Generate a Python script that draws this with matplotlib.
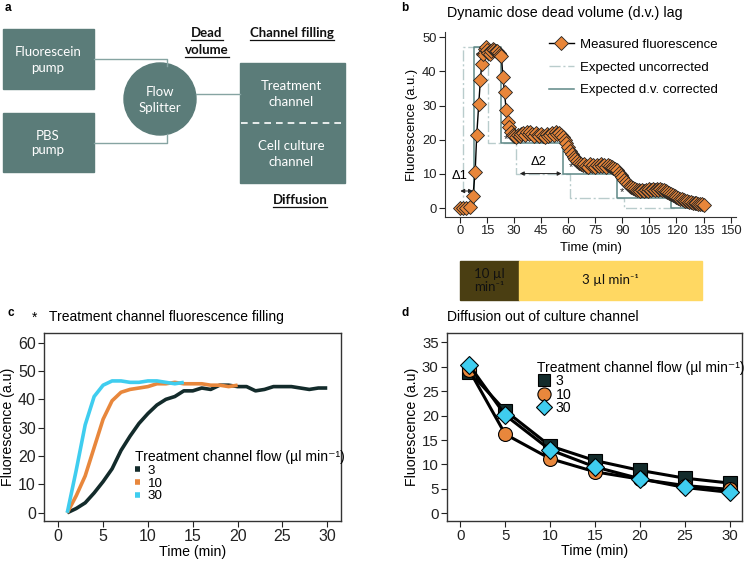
import numpy as np
import matplotlib
matplotlib.use("Agg")
import matplotlib.pyplot as plt
from matplotlib.patches import Rectangle, Circle

plt.rcParams['font.family'] = ['Liberation Sans', 'DejaVu Sans']

# ================= DATA =================
# panel b: measured fluorescence (time, value)
t_meas = [0, 1.5, 3.5, 5.8, 7.2, 8.4, 9.3, 10.4, 11.3, 12.1, 12.9, 13.6, 14.3, 15.0,
          15.8, 16.6, 17.4, 18.2, 19.0, 19.8, 20.6, 21.4, 22.2, 23.0, 23.8, 24.7,
          25.6, 26.5, 27.4, 28.3, 29.2] + list(range(30, 136))
y_meas = [0, 0, 0, 0.3, 3.5, 10.5, 21.5, 30.5, 37.5, 42.2, 45.0, 46.5, 47.0, 46.2,
          45.3, 45.0, 45.8, 46.5, 46.3, 45.8, 46.0, 45.3, 44.8, 44.4, 38.3, 33.9,
          28.6, 25.1, 23.7, 22.2, 21.5,
          # 30 - 57
          21.2, 20.8, 21.5, 21.0, 21.8, 22.0, 21.4, 22.2, 21.6, 22.3, 21.8, 21.2, 22.0, 21.5,
          21.0, 21.8, 21.2, 20.8, 21.6, 21.0, 21.4, 21.9, 21.5, 22.2, 21.7, 22.0, 21.5, 20.8,
          # 58 - 85
          20.0, 19.0, 18.0, 16.8, 15.8, 15.0, 14.3, 13.8, 13.3, 12.8, 12.5, 13.0, 12.4, 12.0,
          12.8, 12.2, 12.6, 12.0, 12.7, 12.3, 12.8, 12.2, 12.6, 12.1, 12.7, 12.4, 12.0, 11.8,
          # 86 - 113
          11.5, 11.0, 10.4, 9.7, 9.0, 8.3, 7.6, 7.0, 6.5, 6.1, 5.8, 5.5, 5.3, 5.2,
          5.0, 5.3, 5.0, 5.4, 5.1, 5.5, 5.2, 5.6, 5.3, 5.7, 5.4, 5.6, 5.2, 5.4,
          # 114 - 135
          5.0, 4.8, 4.5, 4.2, 3.9, 3.6, 3.3, 3.0, 2.8, 2.6, 2.4, 2.2, 2.0, 1.9,
          1.8, 1.6, 1.5, 1.4, 1.3, 1.2, 1.1, 1.0]

# expected step profiles (step start times, levels)
t_uncorr = [0, 1.5, 15.5, 31, 61, 91, 120]
y_uncorr = [0, 47, 19, 10, 3, 0, 0]
t_corr = [0, 7.5, 23, 57, 87, 117, 133]
y_corr = [0, 47, 19, 10, 3, 0, 0]

# panel c: channel filling
t_fill_3 = list(range(1, 31))
fill_3 = [0, 1.5, 3.5, 7, 11, 15.5, 22, 27, 31.5, 35, 38, 40, 41, 43, 43, 44, 43.5,
          45, 45, 44.5, 44.5, 43, 43.5, 44.5, 44.5, 44.5, 44, 43.5, 44, 44]
t_fill_10 = list(range(1, 21))
fill_10 = [0, 6, 13, 23, 33, 39.5, 42.5, 43.5, 44, 44.5, 45.5, 45.5, 46, 45.5, 45.5,
           45.5, 45, 45, 44.5, 45]
t_fill_30 = list(range(1, 15))
fill_30 = [0, 15, 31, 41, 45, 46.5, 46.5, 46, 46, 46.5, 46.5, 46, 45.5, 46]

# panel d: diffusion
t_diff = [1, 5, 10, 15, 20, 25, 30]
diff_3 = [29.0, 21.0, 13.8, 10.8, 8.8, 7.2, 6.2]
diff_10 = [29.3, 16.2, 11.2, 8.5, 7.0, 5.7, 4.9]
diff_30 = [30.3, 20.1, 13.0, 9.5, 7.1, 5.3, 4.3]

# ================= FIGURE =================
W, H = 746, 563
fig = plt.figure(figsize=(W / 100, H / 100), dpi=100)


def box(l, t, r, b):
    return [l / W, 1 - b / H, (r - l) / W, (b - t) / H]


ax0 = fig.add_axes([0, 0, 1, 1])
ax0.set_xlim(0, W)
ax0.set_ylim(H, 0)
ax0.axis('off')

# ---- panel a: diagram ----
teal = '#5b7c79'
wire = '#86a4a2'
diag_font = ['Lato', 'DejaVu Sans']
ax0.add_patch(Rectangle((3, 29), 91, 60, color=teal))
ax0.add_patch(Rectangle((3, 113), 91, 59, color=teal))
ax0.add_patch(Rectangle((240, 63), 105, 120, color=teal))
ax0.plot([94, 167, 167], [59, 59, 66], color=wire, lw=1)
ax0.plot([94, 167, 167], [143, 143, 134], color=wire, lw=1)
ax0.plot([196, 240], [94, 94], color=wire, lw=1)
ax0.add_patch(Circle((160, 99), 36, color=teal))
ax0.plot([241, 344], [123, 123], color='white', lw=1.2, ls=(0, (4, 3)))

for x, y, s in [(48, 60, 'Fluorescein\npump'), (48, 143, 'PBS\npump'),
                (160, 100, 'Flow\nSplitter'), (291, 94, 'Treatment\nchannel'),
                (291, 154, 'Cell culture\nchannel')]:
    ax0.text(x, y, s, color='white', ha='center', va='center', fontsize=9.5,
             family=diag_font, linespacing=1.3)

under = []
for x, y, s in [(207, 33, 'Dead'), (207, 50, 'volume'),
                (292, 33, 'Channel filling'), (300, 200, 'Diffusion')]:
    under.append(ax0.text(x, y, s, ha='center', va='center', fontsize=9.5,
                          fontweight='bold', family=diag_font, color='#111111'))

# panel letters and titles
for x, y, s in [(8, 8, 'a'), (405, 8, 'b'), (11, 313, 'c'), (405, 313, 'd')]:
    ax0.text(x, y, s, ha='center', va='center', fontsize=8.5, fontweight='bold')
ax0.text(447, 13.5, 'Dynamic dose dead volume (d.v.) lag', ha='left', va='center', fontsize=10.3)
ax0.text(35, 318, '*', ha='center', va='center', fontsize=10)
ax0.text(49, 317, 'Treatment channel fluorescence filling', ha='left', va='center', fontsize=10)
ax0.text(447, 317, 'Diffusion out of culture channel', ha='left', va='center', fontsize=10)

# flow rate bar under panel b
ax0.add_patch(Rectangle((460, 261), 59, 39, color='#4a3e12'))
ax0.add_patch(Rectangle((519, 261), 183, 39, color='#ffd862'))
ax0.text(489.5, 280.5, '10 µl\nmin⁻¹', ha='center', va='center', fontsize=9.5,
         family=diag_font, color='#111111', linespacing=1.15)
ax0.text(610.5, 280.5, '3 µl min⁻¹', ha='center', va='center', fontsize=9.5,
         family=diag_font, color='#111111')

# ---- panel b ----
axb = fig.add_axes(box(445, 32, 736, 217))
axb.plot(t_uncorr, y_uncorr, drawstyle='steps-post', color='#b9cccc', lw=1,
         ls=(0, (8, 2, 1.5, 2)), label='Expected uncorrected', zorder=2)
axb.plot(t_corr, y_corr, drawstyle='steps-post', color='#5e8886', lw=1.1,
         label='Expected d.v. corrected', zorder=2)
axb.plot(t_meas, y_meas, color='black', lw=1, marker='D', ms=7, mfc='#e8863a',
         mec='#222222', mew=0.6, label='Measured fluorescence', zorder=3)
axb.set_xlim(-8.3, 153)
axb.set_ylim(-2.6, 51.5)
axb.set_xticks(range(0, 151, 15))
axb.set_yticks(range(0, 51, 10))
for s in ['top', 'right']:
    axb.spines[s].set_visible(False)
for s in ['left', 'bottom']:
    axb.spines[s].set_color('#333333')
axb.tick_params(labelsize=9.4, colors='#222222', length=4, width=0.8, pad=2)
axb.set_xlabel('Time (min)', fontsize=9.4, labelpad=3.5)
axb.set_ylabel('Fluorescence (a.u.)', fontsize=9.4, labelpad=3)

# delta annotations
axb.annotate('', xy=(0.2, 5.0), xytext=(7.2, 5.0),
             arrowprops=dict(arrowstyle='<|-|>', color='#222222', lw=0.7,
                             mutation_scale=6, shrinkA=0, shrinkB=0))
axb.text(-0.5, 9.3, 'Δ1', ha='center', va='center', fontsize=9.4)
axb.annotate('', xy=(33.2, 10.1), xytext=(56.3, 10.1),
             arrowprops=dict(arrowstyle='<|-|>', color='#222222', lw=0.7,
                             mutation_scale=6, shrinkA=0, shrinkB=0))
axb.text(43.7, 13.6, 'Δ2', ha='center', va='center', fontsize=9.4)
for x, y in [(9.8, 44.4), (25.7, 20.3), (61.3, 12.0), (89.6, 4.6)]:
    axb.text(x, y, '*', ha='center', va='center', fontsize=8, color='#222222')

handles, labels = axb.get_legend_handles_labels()
order = [2, 0, 1]
axb.legend([handles[i] for i in order], [labels[i] for i in order],
           loc='upper left', bbox_to_anchor=(0.334, 1.0), frameon=False,
           fontsize=9.5, handlelength=1.9, handletextpad=0.5, labelspacing=0.8,
           borderpad=0)

# ---- panel c ----
c3, c10, c30 = '#132b2b', '#e8873c', '#3fcdef'
axc = fig.add_axes(box(44.3, 333.3, 340.7, 520.7))
axc.plot(t_fill_3, fill_3, color=c3, lw=2.6, label='3', solid_capstyle='butt')
axc.plot(t_fill_10, fill_10, color=c10, lw=2.6, label='10', solid_capstyle='butt')
axc.plot(t_fill_30, fill_30, color=c30, lw=2.6, label='30', solid_capstyle='butt')
axc.set_xlim(-1.56, 31.5)
axc.set_ylim(-2.8, 63.3)
axc.set_xticks(range(0, 31, 5))
axc.set_yticks(range(0, 61, 10))
axc.tick_params(labelsize=11.5, colors='#222222', length=4, width=0.8, pad=2)
axc.set_xlabel('Time (min)', fontsize=10.2, labelpad=1)
axc.set_ylabel('Fluorescence (a.u)', fontsize=10.2, labelpad=2)
legc = axc.legend(loc='upper left', bbox_to_anchor=(0.306, 0.376), frameon=False,
                  title='Treatment channel flow (µl min⁻¹)', title_fontsize=10.1,
                  fontsize=9.6, handlelength=0.35, handletextpad=0.6,
                  labelspacing=0.03, borderpad=0, borderaxespad=0,
                  alignment='left')
for h in legc.legend_handles:
    h.set_linewidth(4)

# ---- panel d ----
axd = fig.add_axes(box(447, 333, 742.3, 520.7))
axd.plot(t_diff, diff_3, color='black', lw=2.2, marker='s', ms=9.5, mfc=c3,
         mec='black', mew=0.8, label='3')
axd.plot(t_diff, diff_10, color='black', lw=2.2, marker='o', ms=10, mfc=c10,
         mec='black', mew=0.8, label='10')
axd.plot(t_diff, diff_30, color='black', lw=2.2, marker='D', ms=9, mfc=c30,
         mec='black', mew=0.8, label='30')
axd.set_xlim(-1.48, 31.4)
axd.set_ylim(-1.5, 36.9)
axd.set_xticks(range(0, 31, 5))
axd.set_yticks(range(0, 36, 5))
axd.tick_params(labelsize=10.8, colors='#222222', length=4, width=0.8, pad=2)
axd.set_xlabel('Time (min)', fontsize=10.2, labelpad=1)
axd.set_ylabel('Fluorescence (a.u)', fontsize=10.2, labelpad=2)
legd = axd.legend(loc='upper left', bbox_to_anchor=(0.305, 0.85), frameon=False,
                  title='Treatment channel flow (µl min⁻¹)', title_fontsize=10.0,
                  fontsize=10.2, handlelength=1.0, handletextpad=0.3,
                  labelspacing=-0.05, borderpad=0, borderaxespad=0,
                  markerscale=0.95, alignment='left')
for h in legd.legend_handles:
    h.set_linestyle('none')

for ax in (axc, axd):
    for s in ax.spines.values():
        s.set_color('#333333')
        s.set_linewidth(1)

# underline the bold diagram labels
fig.canvas.draw()
inv = ax0.transData.inverted()
for t in under:
    bb = t.get_window_extent()
    (x1, y1), (x2, y2) = inv.transform([(bb.x0, bb.y0), (bb.x1, bb.y1)])
    ax0.plot([x1, x2], [y1 + 0.5, y1 + 0.5], color='#111111', lw=0.9)

fig.savefig('out.png', dpi=100)
